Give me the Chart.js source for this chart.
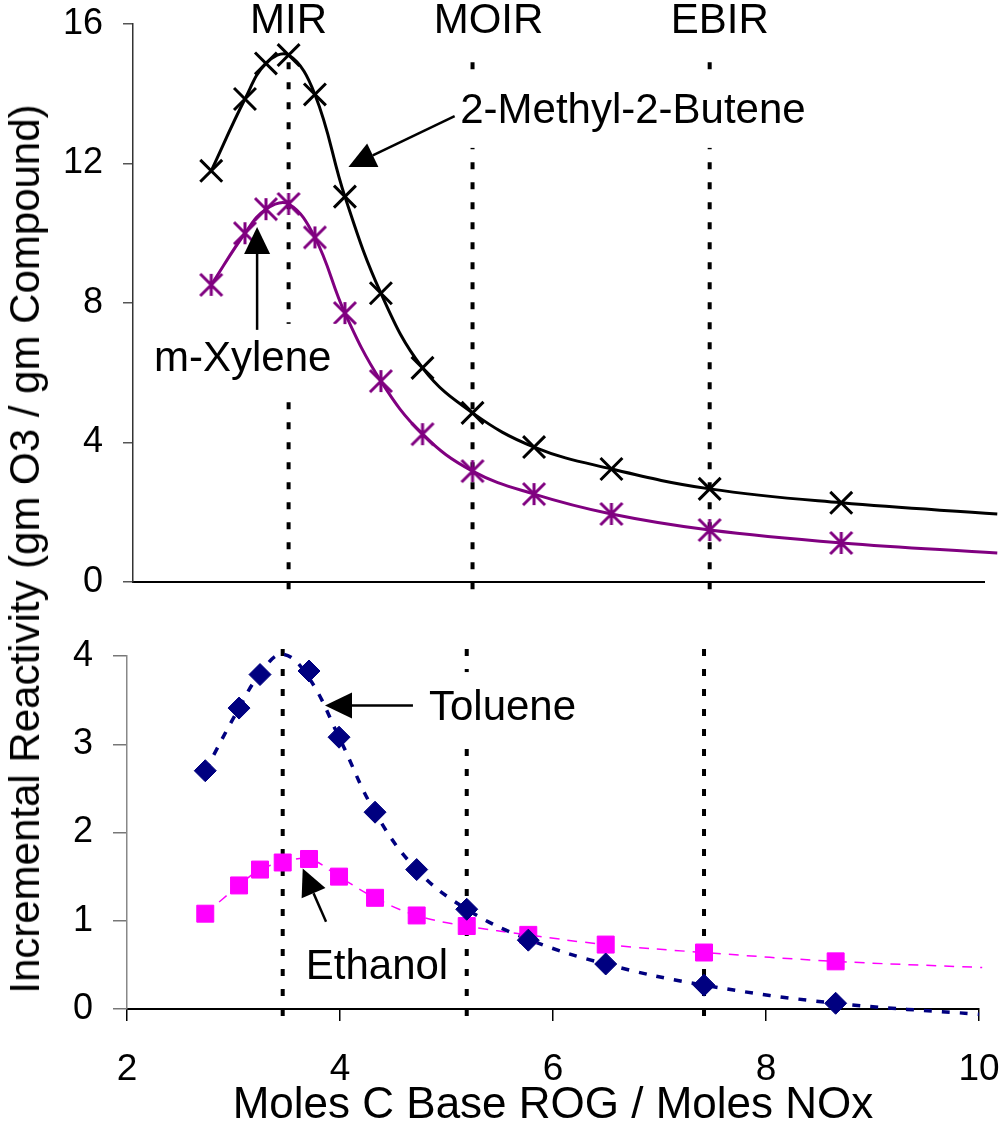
<!DOCTYPE html>
<html>
<head>
<meta charset="utf-8">
<script src="https://cdn.jsdelivr.net/npm/chart.js@4.4.0/dist/chart.umd.min.js"></script>
<style>
  body { margin: 0; background: #fff; }
  #wrap { position: relative; width: 1003px; height: 1128px; overflow: hidden; font-family: "Liberation Sans", Arial, sans-serif; }
  .panel { position: absolute; left: 0; width: 1003px; }
  #top-panel { top: 0; height: 620px; }
  #bottom-panel { top: 620px; height: 508px; }
  #y-title { position: absolute; left: 25px; top: 549px; transform: translate(-50%, -50%) rotate(-90deg);
             white-space: nowrap; font-size: 42px; line-height: 42px; color: #000; }
</style>
</head>
<body>
<div id="wrap">
  <div class="panel" id="top-panel"><canvas id="top-chart"></canvas></div>
  <div class="panel" id="bottom-panel"><canvas id="bottom-chart"></canvas></div>
  <div id="y-title">Incremental Reactivity (gm O3 / gm Compound)</div>
</div>
<script>
// ROG/NOx ratio of each model scenario (same runs in both panels)
const ratios = [2.735, 3.052, 3.249, 3.462, 3.709, 3.991, 4.329, 4.720, 5.190, 5.768, 6.495, 7.418, 8.654];

// upper panel
const butene = [11.79, 13.85, 14.87, 15.11, 13.98, 11.05, 8.28, 6.14, 4.85, 3.87, 3.24, 2.67, 2.27];
const xylene = [8.52, 10.0, 10.69, 10.84, 9.88, 7.71, 5.76, 4.24, 3.18, 2.52, 1.95, 1.49, 1.12];
const buteneEnd = [10.12, 1.95];
const xyleneEnd = [10.12, 0.83];

// lower panel
const toluene = [2.70, 3.41, 3.79, null, 3.83, 3.08, 2.23, 1.58, 1.13, 0.78, 0.51, 0.27, 0.065];
const tolueneFit = [2.70, 3.41, 3.80, 4.02, 3.75, 3.08, 2.23, 1.58, 1.13, 0.79, 0.51, 0.27, 0.065];
const tolueneEnd = [10.0, -0.06];
const ethanol = [1.08, 1.40, 1.58, 1.66, 1.70, 1.50, 1.26, 1.06, 0.94, 0.84, 0.73, 0.64, 0.54];
const ethanolEnd = [10.03, 0.47];

// reactivity scales
const scaleNames = ['MIR', 'MOIR', 'EBIR'];
const scaleRatios = [3.462, 5.190, 7.418];
const topGuideSpan = [-0.25, 14.9];
const bottomGuideSpan = [-0.08, 4.08];

const topTicks = [0, 4, 8, 12, 16];
const bottomTicks = [0, 1, 2, 3, 4];
const xTicks = [2, 4, 6, 8, 10];

const FONT = '"Liberation Sans", Arial, Helvetica, sans-serif';
Chart.defaults.font.family = FONT;
Chart.defaults.color = '#000';

function points(xs, ys) {
  return xs.map((x, i) => ({ x: x, y: ys[i] })).filter(p => p.y !== null);
}

function curve(xs, ys, end) {
  return points(xs, ys).concat([{ x: end[0], y: end[1] }]);
}

function guides(span) {
  return scaleRatios.map(r => ({
    data: [{ x: r, y: span[1] }, { x: r, y: span[0] }],
    showLine: true,
    borderColor: '#000',
    borderWidth: 4,
    borderDash: [7, 13],
    pointRadius: 0,
    clip: false,
    order: 3
  }));
}

// fixed axis box, no extra room for overflowing labels
function fixWidth(w) {
  return a => { a.width = w; a.paddingTop = 0; a.paddingBottom = 0; };
}
function fixHeight(h) {
  return a => { a.height = h; a.paddingLeft = 0; a.paddingRight = 0; };
}

// six spoke asterisk marker like the old spreadsheet one
function asterisk(color) {
  const c = document.createElement('canvas');
  c.width = 28; c.height = 28;
  const g = c.getContext('2d');
  g.strokeStyle = color;
  g.lineWidth = 3;
  g.beginPath();
  g.moveTo(3, 3); g.lineTo(25, 25);
  g.moveTo(25, 3); g.lineTo(3, 25);
  g.moveTo(14, 3); g.lineTo(14, 25);
  g.stroke();
  return c;
}

// labels and arrows placed in data units
const notesPlugin = {
  id: 'notes',
  afterDatasetsDraw(chart, args, opts) {
    const ctx = chart.ctx;
    const xs = chart.scales.x, ys = chart.scales.y;
    ctx.save();
    ctx.font = '42px ' + FONT;
    ctx.textAlign = 'center';
    ctx.textBaseline = 'middle';
    (opts.labels || []).forEach(l => {
      const px = xs.getPixelForValue(l.at[0]);
      const py = ys.getPixelForValue(l.at[1]);
      if (l.box) {
        const w = ctx.measureText(l.text).width;
        ctx.fillStyle = '#fff';
        ctx.fillRect(px - w / 2 - 8, py - 36, w + 16, 72);
      }
      ctx.fillStyle = '#000';
      ctx.fillText(l.text, px, py);
    });
    (opts.arrows || []).forEach(a => {
      const x0 = xs.getPixelForValue(a.from[0]), y0 = ys.getPixelForValue(a.from[1]);
      const x1 = xs.getPixelForValue(a.to[0]), y1 = ys.getPixelForValue(a.to[1]);
      const ang = Math.atan2(y1 - y0, x1 - x0);
      const len = 27, half = 13;
      const bx = x1 - len * Math.cos(ang), by = y1 - len * Math.sin(ang);
      ctx.strokeStyle = '#000';
      ctx.lineWidth = 2.5;
      ctx.beginPath();
      ctx.moveTo(x0, y0);
      ctx.lineTo(bx, by);
      ctx.stroke();
      ctx.fillStyle = '#000';
      ctx.beginPath();
      ctx.moveTo(x1, y1);
      ctx.lineTo(bx + half * Math.sin(ang), by - half * Math.cos(ang));
      ctx.lineTo(bx - half * Math.sin(ang), by + half * Math.cos(ang));
      ctx.closePath();
      ctx.fill();
    });
    ctx.restore();
  }
};

// upper panel: 2-methyl-2-butene and m-xylene
new Chart(document.getElementById('top-chart'), {
  type: 'scatter',
  data: {
    datasets: [
      ...guides(topGuideSpan),
      {
        label: '2-Methyl-2-Butene',
        data: curve(ratios, butene, buteneEnd),
        showLine: true, tension: 0.4, clip: false,
        borderColor: '#000', borderWidth: 3, pointRadius: 0, order: 2
      },
      {
        label: 'm-Xylene',
        data: curve(ratios, xylene, xyleneEnd),
        showLine: true, tension: 0.4, clip: false,
        borderColor: '#800080', borderWidth: 3, pointRadius: 0, order: 2
      },
      {
        data: points(ratios, butene),
        pointStyle: 'crossRot', pointRadius: 15.5,
        borderColor: '#000', backgroundColor: '#000', borderWidth: 3, clip: false, order: 1
      },
      {
        data: points(ratios, xylene),
        pointStyle: asterisk('#800080'), pointRadius: 11,
        borderColor: '#800080', clip: false, order: 1
      }
    ]
  },
  options: {
    responsive: true,
    maintainAspectRatio: false,
    animation: false,
    events: [],
    layout: { padding: { top: 24, right: 12, left: 0, bottom: 0 } },
    plugins: {
      legend: { display: false },
      tooltip: { enabled: false },
      notes: {
        labels: [
          { text: scaleNames[0], at: [3.462, 16.06] },
          { text: scaleNames[1], at: [5.34, 16.06] },
          { text: scaleNames[2], at: [7.513, 16.06] },
          { text: '2-Methyl-2-Butene', at: [6.697, 13.48], box: true },
          { text: 'm-Xylene', at: [3.031, 6.37], box: true }
        ],
        arrows: [
          { from: [5.022, 13.36], to: [4.024, 11.90] },
          { from: [3.166, 7.23], to: [3.166, 10.18] }
        ]
      }
    },
    scales: {
      x: {
        type: 'linear', min: 2, max: 10,
        ticks: { display: false },
        grid: { display: false },
        border: { color: '#000', width: 2 },
        afterFit: fixHeight(38)
      },
      y: {
        min: 0, max: 16,
        afterBuildTicks: a => { a.ticks = topTicks.map(v => ({ value: v })); },
        ticks: { font: { size: 36 }, color: '#000', padding: 20 },
        grid: { drawOnChartArea: false, tickLength: 10, color: '#555', lineWidth: 1.5 },
        border: { color: '#333', width: 1.5 },
        afterFit: fixWidth(133)
      }
    }
  },
  plugins: [notesPlugin]
});

// lower panel: toluene and ethanol
new Chart(document.getElementById('bottom-chart'), {
  type: 'scatter',
  data: {
    datasets: [
      ...guides(bottomGuideSpan),
      {
        label: 'Toluene',
        data: curve(ratios, tolueneFit, tolueneEnd),
        showLine: true, tension: 0.4, clip: false,
        borderColor: '#000080', borderWidth: 3.5, borderDash: [8, 10], pointRadius: 0, order: 2
      },
      {
        label: 'Ethanol',
        data: curve(ratios, ethanol, ethanolEnd),
        showLine: true, tension: 0.4, clip: false,
        borderColor: '#ff00ff', borderWidth: 1.5, borderDash: [10, 8], pointRadius: 0, order: 2
      },
      {
        data: points(ratios, toluene),
        pointStyle: 'rectRot', pointRadius: 11,
        borderColor: '#000080', backgroundColor: '#000080', borderWidth: 1, clip: false, order: 1
      },
      {
        data: points(ratios, ethanol),
        pointStyle: 'rect', pointRadius: 12,
        borderColor: '#ff00ff', backgroundColor: '#ff00ff', borderWidth: 1, clip: false, order: 1
      }
    ]
  },
  options: {
    responsive: true,
    maintainAspectRatio: false,
    animation: false,
    events: [],
    layout: { padding: { top: 36, right: 24, left: 0, bottom: 0 } },
    plugins: {
      legend: { display: false },
      tooltip: { enabled: false },
      notes: {
        labels: [
          { text: 'Toluene', at: [5.526, 3.41], box: true },
          { text: 'Ethanol', at: [4.347, 0.47] }
        ],
        arrows: [
          { from: [4.685, 3.44], to: [3.859, 3.44] },
          { from: [3.869, 0.989], to: [3.650, 1.593] }
        ]
      }
    },
    scales: {
      x: {
        type: 'linear', min: 2, max: 10,
        afterBuildTicks: a => { a.ticks = xTicks.map(v => ({ value: v })); },
        ticks: { font: { size: 37 }, color: '#000', padding: 27, maxRotation: 0 },
        grid: { drawOnChartArea: false, tickLength: 12, color: '#000', lineWidth: 1.5 },
        border: { color: '#000', width: 2 },
        title: {
          display: true,
          text: 'Moles C Base ROG / Moles NOx',
          font: { size: 44, lineHeight: 1 },
          color: '#000',
          padding: { top: 0, bottom: 0 }
        },
        afterFit: fixHeight(119)
      },
      y: {
        min: 0, max: 4,
        afterBuildTicks: a => { a.ticks = bottomTicks.map(v => ({ value: v })); },
        ticks: { font: { size: 36 }, color: '#000', padding: 20 },
        grid: { drawOnChartArea: false, tickLength: 14, color: '#777', lineWidth: 1.5 },
        border: { color: '#888', width: 1.5 },
        afterFit: fixWidth(127)
      }
    }
  },
  plugins: [notesPlugin]
});
</script>
</body>
</html>
